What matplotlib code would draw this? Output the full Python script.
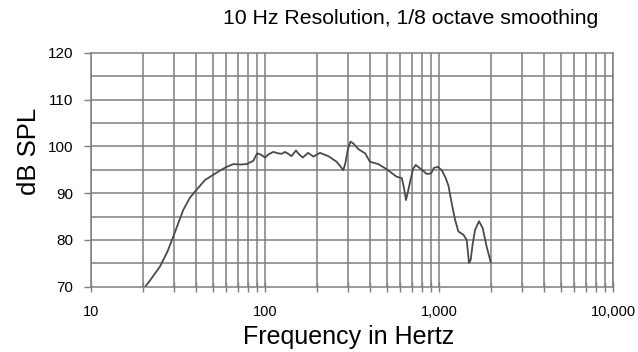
import numpy as np
import matplotlib.pyplot as plt
from matplotlib.ticker import FixedLocator, NullFormatter

plt.rcParams['font.family'] = ['Liberation Sans', 'DejaVu Sans']

# measured response, 1/8 octave smoothed
freq_hz = [20.5, 22, 24.9, 27.5, 29.7, 33.9, 37, 40.4, 45.2, 50.4, 55, 60.2,
           65.8, 72, 78.5, 85.7, 90, 95, 100, 105, 111.6, 119, 125, 130, 136,
           142, 150.6, 157, 164.7, 177, 189.7, 207, 231, 258, 270, 282, 290,
           300, 310, 322, 344, 376, 401, 448, 500, 571, 611, 630, 646, 665,
           681, 710, 735, 778, 850, 900, 935, 984, 1037, 1090, 1133, 1183,
           1237, 1292, 1381, 1443, 1487, 1520, 1560, 1610, 1698, 1783, 1880,
           1982]
spl_db = [70.0, 71.5, 74.3, 77.5, 80.7, 86.4, 89.0, 90.7, 92.8, 93.9, 94.8,
          95.6, 96.2, 96.1, 96.2, 96.9, 98.5, 98.2, 97.6, 98.3, 98.8, 98.5,
          98.4, 98.8, 98.4, 97.9, 99.1, 98.3, 97.6, 98.6, 97.8, 98.6, 97.9,
          96.7, 95.8, 94.9, 96.5, 99.5, 101.0, 100.6, 99.4, 98.5, 96.7, 96.2,
          95.1, 93.5, 93.2, 91.0, 88.5, 90.5, 92.3, 95.2, 96.0, 95.3, 94.1,
          94.2, 95.4, 95.6, 94.9, 93.3, 91.6, 87.8, 84.3, 81.8, 81.1, 80.0,
          75.1, 75.7, 79.0, 82.1, 84.0, 82.5, 78.5, 75.3]

x_ticks = [10, 100, 1000, 10000]
x_labels = ['10', '100', '1,000', '10,000']
y_ticks = [70, 80, 90, 100, 110, 120]

grid_col = '#7f7f7f'

fig = plt.figure(figsize=(6.38, 3.52), dpi=100)
ax = fig.add_axes([91 / 638, 1 - 286.7 / 352, (613 - 91) / 638, (286.7 - 52.7) / 352])

ax.plot(freq_hz, spl_db, color='#4a4a4a', lw=1.3)

ax.set_xscale('log')
ax.set_xlim(10, 10000)
ax.set_ylim(70, 120)

# grid on every 1-2-3..9 decade line and every 5 dB
minor_x = [m * 10 ** d for d in range(1, 4) for m in range(2, 10)]
for f in minor_x + x_ticks:
    ax.axvline(f, color=grid_col, lw=1.1, zorder=0)
for y in np.arange(75, 120, 5):
    ax.axhline(y, color=grid_col, lw=1.1, zorder=0)

ax.xaxis.set_major_locator(FixedLocator(x_ticks))
ax.xaxis.set_minor_locator(FixedLocator(minor_x))
ax.xaxis.set_minor_formatter(NullFormatter())
ax.set_xticklabels(x_labels)
ax.set_yticks(y_ticks)
ax.tick_params(axis='x', which='both', direction='inout', length=7, width=1,
               color=grid_col, labelsize=10.5, pad=10)
ax.tick_params(axis='y', direction='out', length=5, width=1, color=grid_col,
               labelsize=11, pad=8)
for s in ax.spines.values():
    s.set_color(grid_col)
    s.set_linewidth(1.1)

fig.text(0.045, 1 - 151 / 352, 'dB SPL', rotation=90, fontsize=18.5,
         ha='center', va='center')
fig.text(348.5 / 638, 1 - 337 / 352, 'Frequency in Hertz', fontsize=18,
         ha='center', va='center')
fig.text(411 / 638, 1 - 19 / 352, '10 Hz Resolution, 1/8 octave smoothing',
         fontsize=15.3, ha='center', va='center')

fig.savefig('out.png', dpi=100)
